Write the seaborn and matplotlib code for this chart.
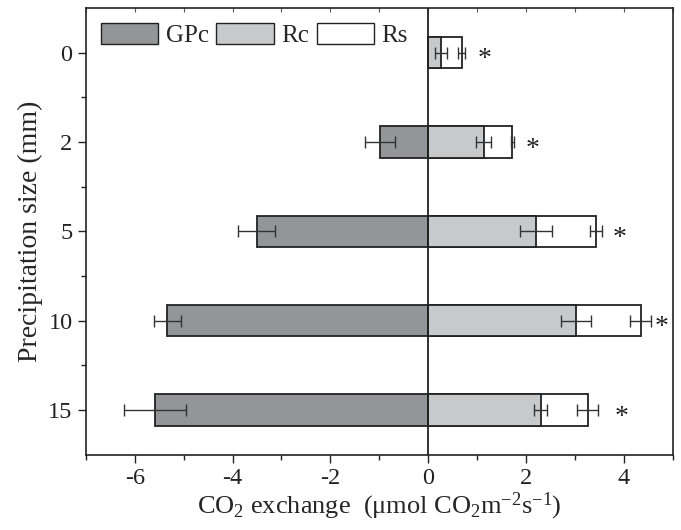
import matplotlib
matplotlib.use("Agg")
import matplotlib.pyplot as plt
import seaborn as sns
import pandas as pd
import numpy as np
from matplotlib.patches import Patch
from matplotlib.ticker import MultipleLocator, NullFormatter

sizes = ["0", "2", "5", "10", "15"]
gpc = [0.0, -0.98, -3.51, -5.33, -5.59]
gpc_err = [0.0, 0.31, 0.37, 0.27, 0.63]
rc = [0.26, 1.13, 2.20, 3.02, 2.30]
rc_err = [0.12, 0.16, 0.32, 0.30, 0.13]
rs = [0.42, 0.59, 1.23, 1.32, 0.96]
rs_err = [0.08, 0.03, 0.12, 0.22, 0.22]
star_x = [1.15, 2.14, 3.92, 4.78, 3.96]

sns.set_theme(style="ticks")
plt.rcParams["font.family"] = ["Liberation Serif", "DejaVu Serif"]
plt.rcParams["mathtext.fontset"] = "custom"
plt.rcParams["mathtext.rm"] = "Liberation Serif"
plt.rcParams["mathtext.it"] = "Liberation Serif:italic"
plt.rcParams["axes.unicode_minus"] = False

total = [a + b for a, b in zip(rc, rs)]
df = pd.DataFrame({"size": sizes, "GPc": gpc, "Rc": rc, "Total": total})

fig = plt.figure(figsize=(6.81, 5.30), dpi=100)
ax = fig.add_axes([0.126, 0.142, 0.862, 0.843])

dark = "#949598"
light = "#c8c9cb"
ec = "#222222"
bw = 0.35
common = dict(orient="h", order=sizes, edgecolor=ec, linewidth=1.3, width=bw, ax=ax,
              errorbar=None, saturation=1)
sns.barplot(data=df, y="size", x="Total", color="white", **common)
sns.barplot(data=df, y="size", x="Rc", color=light, **common)
sns.barplot(data=df, y="size", x="GPc", color=dark, **common)

ypos = np.arange(len(sizes))
ekw = dict(fmt="none", ecolor="#333333", elinewidth=1.0, capsize=4.5, capthick=1.0, zorder=6)
mask = np.array(gpc_err) > 0
ax.errorbar(np.array(gpc)[mask], ypos[mask], xerr=np.array(gpc_err)[mask], **ekw)
ax.errorbar(rc, ypos, xerr=rc_err, **ekw)
ax.errorbar(total, ypos, xerr=rs_err, **ekw)

for x, y in zip(star_x, ypos):
    ax.text(x, y + 0.08, "*", fontsize=20, ha="center", va="center", color=ec)

ax.axvline(0, color=ec, lw=1.3, zorder=5)

ax.set_xlim(-7, 5)
ax.set_ylim(4.5, -0.5)
ax.xaxis.set_major_locator(MultipleLocator(2))
ax.xaxis.set_minor_locator(MultipleLocator(1))
ax.set_yticks(ypos)
ax.set_yticklabels(sizes)
ax.set_yticks(ypos[:-1] + 0.5, minor=True)
ax.tick_params(axis="both", which="both", direction="out", colors=ec,
               labelsize=17.5, width=1.0)
ax.tick_params(which="major", length=6)
ax.tick_params(which="minor", length=3.5)
for s in ax.spines.values():
    s.set_color(ec)
    s.set_linewidth(1.2)

top = ax.secondary_xaxis("top")
top.xaxis.set_major_locator(MultipleLocator(2))
top.xaxis.set_minor_locator(MultipleLocator(1))
top.xaxis.set_major_formatter(NullFormatter())
top.tick_params(which="both", direction="in", length=3, width=0.8, colors="#555555")
top.spines["top"].set_visible(False)

ax.set_xlabel(r"CO$_2$ exchange  ($\mathrm{\mu}$mol CO$_2$m$^{-2}$s$^{-1}$)", fontsize=19, labelpad=1)
ax.set_ylabel("Precipitation size (mm)", fontsize=20, labelpad=4)

handles = [Patch(facecolor=dark, edgecolor=ec, label="GPc"),
           Patch(facecolor=light, edgecolor=ec, label="Rc"),
           Patch(facecolor="white", edgecolor=ec, label="Rs")]
ax.legend(handles=handles, loc="upper left", ncol=3, frameon=False, fontsize=18,
          handlelength=2.3, handleheight=0.9, columnspacing=0.3, handletextpad=0.3,
          borderaxespad=0.4, borderpad=0.2)

fig.savefig("out.png", dpi=100)
